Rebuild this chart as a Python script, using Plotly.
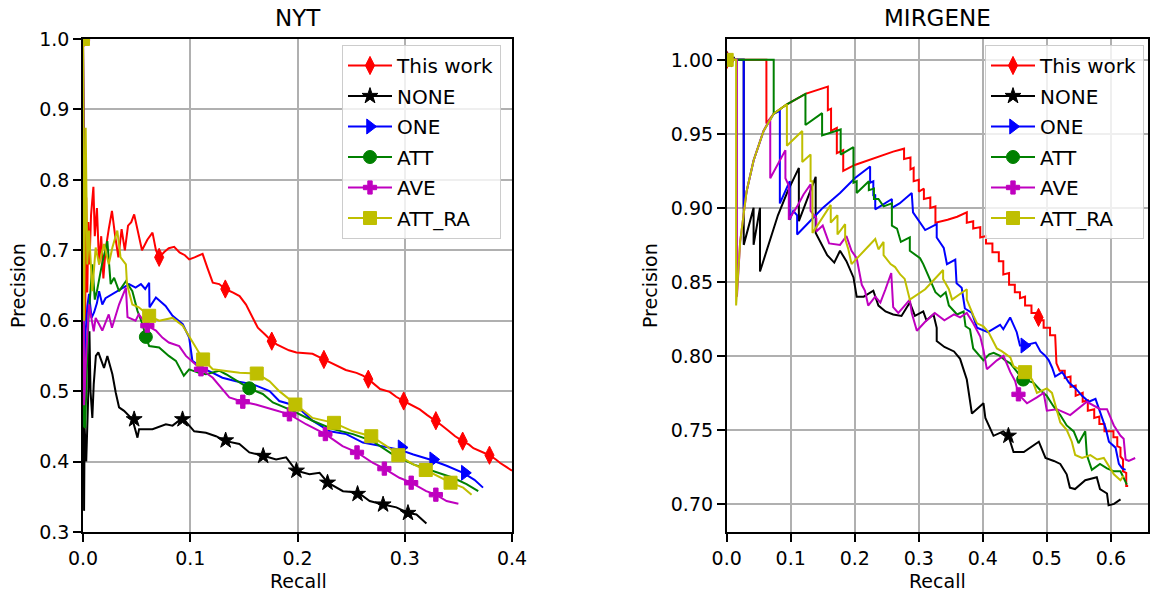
import plotly.graph_objects as go

# ---------------- NYT data (recall, precision) ----------------
NYT_THIS_WORK = [(0.0,1.0),(0.001,0.72),(0.002,0.60),(0.003,0.775),(0.004,0.64),(0.005,0.74),(0.006,0.68),(0.0075,0.75),(0.0097,0.79),(0.011,0.72),(0.013,0.76),(0.015,0.68),(0.017,0.72),(0.019,0.66),(0.021,0.70),(0.024,0.73),(0.027,0.756),(0.030,0.72),(0.033,0.69),(0.036,0.73),(0.039,0.70),(0.042,0.735),(0.045,0.74),(0.0477,0.751),(0.051,0.73),(0.055,0.70),(0.060,0.715),(0.0648,0.725),(0.068,0.70),(0.071,0.69),(0.076,0.698),(0.080,0.703),(0.085,0.705),(0.090,0.697),(0.095,0.693),(0.099,0.687),(0.104,0.690),(0.1115,0.695),(0.116,0.675),(0.121,0.654),(0.127,0.652),(0.1327,0.645),(0.140,0.640),(0.146,0.635),(0.152,0.623),(0.157,0.608),(0.163,0.590),(0.170,0.580),(0.176,0.571),(0.181,0.566),(0.186,0.562),(0.192,0.558),(0.199,0.555),(0.207,0.554),(0.214,0.553),(0.2246,0.545),(0.230,0.541),(0.236,0.536),(0.245,0.530),(0.255,0.526),(0.261,0.522),(0.266,0.517),(0.272,0.510),(0.277,0.503),(0.286,0.499),(0.292,0.492),(0.299,0.486),(0.306,0.480),(0.314,0.474),(0.321,0.466),(0.329,0.458),(0.334,0.452),(0.339,0.446),(0.347,0.436),(0.354,0.429),(0.360,0.424),(0.364,0.419),(0.372,0.414),(0.379,0.409),(0.385,0.403),(0.389,0.398),(0.395,0.392),(0.400,0.387)]
NYT_THIS_WORK_MARKS = [(0.0,1.0),(0.071,0.690),(0.1327,0.645),(0.176,0.571),(0.2246,0.545),(0.266,0.517),(0.299,0.486),(0.329,0.458),(0.354,0.429),(0.379,0.409)]

NYT_NONE = [(0.0,1.0),(0.0005,0.50),(0.001,0.33),(0.0015,0.45),(0.003,0.40),(0.005,0.50),(0.006,0.585),(0.007,0.50),(0.0087,0.462),(0.010,0.51),(0.012,0.55),(0.0143,0.555),(0.0196,0.533),(0.0227,0.550),(0.0274,0.524),(0.0305,0.498),(0.0336,0.477),(0.0383,0.472),(0.0461,0.460),(0.0508,0.434),(0.0523,0.446),(0.0648,0.446),(0.0773,0.453),(0.0835,0.451),(0.0928,0.462),(0.1037,0.443),(0.1146,0.441),(0.124,0.436),(0.1333,0.429),(0.1458,0.425),(0.1551,0.413),(0.1692,0.408),(0.180,0.403),(0.1894,0.406),(0.1988,0.387),(0.2112,0.382),(0.2206,0.384),(0.2283,0.370),(0.2424,0.358),(0.2564,0.356),(0.2673,0.344),(0.2798,0.339),(0.2922,0.335),(0.3031,0.327),(0.3109,0.325),(0.3202,0.312)]
NYT_NONE_MARKS = [(0.0,1.0),(0.0477,0.460),(0.0928,0.460),(0.133,0.430),(0.168,0.408),(0.199,0.387),(0.228,0.370),(0.256,0.354),(0.2798,0.339),(0.303,0.327)]

NYT_ONE = [(0.0,1.0),(0.001,0.45),(0.0025,0.585),(0.004,0.62),(0.0056,0.638),(0.008,0.604),(0.0104,0.612),(0.013,0.625),(0.015,0.642),(0.018,0.623),(0.021,0.632),(0.0274,0.638),(0.032,0.642),(0.0368,0.647),(0.043,0.652),(0.049,0.647),(0.054,0.652),(0.058,0.645),(0.0617,0.654),(0.062,0.619),(0.068,0.633),(0.077,0.621),(0.0835,0.607),(0.093,0.595),(0.099,0.576),(0.102,0.543),(0.111,0.533),(0.121,0.526),(0.130,0.519),(0.1427,0.514),(0.158,0.510),(0.174,0.500),(0.183,0.486),(0.199,0.479),(0.214,0.458),(0.230,0.443),(0.2455,0.439),(0.261,0.427),(0.2766,0.422),(0.295,0.417),(0.308,0.410),(0.3234,0.403),(0.339,0.394),(0.3545,0.384),(0.365,0.374),(0.373,0.363)]
NYT_ONE_MARKS = [(0.0,1.0),(0.297,0.420),(0.3265,0.403),(0.356,0.384)]

NYT_ATT = [(0.0,1.0),(0.001,0.45),(0.002,0.448),(0.005,0.60),(0.0087,0.680),(0.011,0.63),(0.013,0.642),(0.0177,0.680),(0.0227,0.713),(0.0258,0.652),(0.029,0.661),(0.0336,0.642),(0.040,0.656),(0.046,0.642),(0.0508,0.614),(0.0555,0.595),(0.0586,0.577),(0.0617,0.564),(0.071,0.562),(0.080,0.550),(0.0866,0.543),(0.094,0.522),(0.099,0.531),(0.108,0.526),(0.1146,0.524),(0.127,0.529),(0.1333,0.524),(0.146,0.512),(0.155,0.504),(0.1676,0.496),(0.177,0.484),(0.1956,0.472),(0.214,0.458),(0.233,0.446),(0.2517,0.439),(0.270,0.429),(0.289,0.410),(0.308,0.396),(0.3265,0.387),(0.345,0.377),(0.3576,0.368),(0.3685,0.358)]
NYT_ATT_MARKS = [(0.0,1.0),(0.0586,0.577),(0.155,0.504)]

NYT_AVE = [(0.0,1.0),(0.001,0.48),(0.0025,0.538),(0.0056,0.623),(0.010,0.585),(0.0118,0.604),(0.015,0.595),(0.018,0.586),(0.024,0.609),(0.027,0.590),(0.0336,0.623),(0.040,0.647),(0.0415,0.605),(0.049,0.600),(0.052,0.609),(0.060,0.593),(0.068,0.586),(0.074,0.576),(0.080,0.569),(0.0897,0.564),(0.096,0.550),(0.110,0.531),(0.121,0.519),(0.130,0.503),(0.1364,0.491),(0.149,0.485),(0.161,0.481),(0.177,0.474),(0.1925,0.467),(0.208,0.453),(0.226,0.439),(0.242,0.422),(0.2555,0.413),(0.2704,0.398),(0.281,0.390),(0.295,0.377),(0.306,0.370),(0.320,0.358),(0.329,0.353),(0.339,0.344),(0.350,0.340)]
NYT_AVE_MARKS = [(0.0,1.0),(0.060,0.593),(0.110,0.531),(0.149,0.485),(0.1925,0.467),(0.226,0.439),(0.2555,0.413),(0.281,0.390),(0.306,0.370),(0.329,0.353)]

NYT_ATT_RA = [(0.0,1.0),(0.001,0.60),(0.0025,0.874),(0.004,0.680),(0.0056,0.728),(0.0087,0.642),(0.0118,0.704),(0.015,0.680),(0.0196,0.709),(0.024,0.680),(0.0274,0.704),(0.032,0.728),(0.035,0.690),(0.040,0.680),(0.041,0.652),(0.046,0.623),(0.052,0.619),(0.0617,0.607),(0.071,0.600),(0.0835,0.604),(0.093,0.593),(0.102,0.571),(0.112,0.545),(0.121,0.531),(0.133,0.529),(0.146,0.526),(0.162,0.525),(0.174,0.514),(0.183,0.500),(0.198,0.481),(0.214,0.462),(0.234,0.455),(0.2517,0.443),(0.2688,0.436),(0.283,0.422),(0.294,0.409),(0.308,0.396),(0.3196,0.388),(0.333,0.377),(0.3427,0.370),(0.3545,0.363),(0.3623,0.353)]
NYT_ATT_RA_MARKS = [(0.0,1.0),(0.0617,0.607),(0.112,0.545),(0.162,0.525),(0.198,0.481),(0.234,0.455),(0.2688,0.436),(0.294,0.409),(0.3196,0.388),(0.3427,0.370)]

# ---------------- MIRGENE data ----------------
MIR_THIS_WORK = [(0.0,1.0),(0.062,1.0),(0.062,0.957),(0.0734,0.9636),(0.094,0.970),(0.123,0.977),(0.158,0.982),(0.158,0.966),(0.163,0.967),(0.163,0.952),(0.172,0.954),(0.172,0.937),(0.182,0.939),(0.182,0.925),(0.20,0.929),(0.22,0.932),(0.24,0.935),(0.26,0.938),(0.277,0.940),(0.277,0.933),(0.287,0.934),(0.287,0.926),(0.292,0.927),(0.292,0.918),(0.300,0.919),(0.300,0.911),(0.308,0.913),(0.308,0.906),(0.318,0.907),(0.318,0.900),(0.326,0.901),(0.326,0.890),(0.345,0.892),(0.360,0.894),(0.375,0.897),(0.375,0.890),(0.385,0.891),(0.385,0.886),(0.396,0.887),(0.396,0.880),(0.405,0.881),(0.405,0.876),(0.415,0.876),(0.415,0.870),(0.425,0.870),(0.425,0.864),(0.432,0.864),(0.432,0.855),(0.441,0.856),(0.441,0.848),(0.450,0.848),(0.450,0.843),(0.458,0.843),(0.458,0.839),(0.466,0.840),(0.466,0.834),(0.476,0.834),(0.476,0.829),(0.487,0.829),(0.487,0.824),(0.495,0.824),(0.495,0.819),(0.505,0.819),(0.505,0.814),(0.513,0.814),(0.515,0.795),(0.520,0.790),(0.528,0.790),(0.528,0.785),(0.537,0.786),(0.537,0.779),(0.545,0.780),(0.545,0.773),(0.556,0.775),(0.556,0.769),(0.564,0.770),(0.564,0.763),(0.574,0.764),(0.574,0.758),(0.582,0.759),(0.582,0.754),(0.590,0.754),(0.590,0.749),(0.604,0.749),(0.604,0.745),(0.610,0.745),(0.610,0.739),(0.615,0.738),(0.615,0.732),(0.619,0.730),(0.619,0.722),(0.624,0.721),(0.624,0.712),(0.627,0.712)]
MIR_THIS_WORK_MARKS = [(0.0,1.0),(0.487,0.826)]

MIR_NONE = [(0.0,1.0),(0.0266,1.0),(0.0266,0.875),(0.042,0.900),(0.042,0.875),(0.052,0.900),(0.052,0.857),(0.065,0.875),(0.080,0.895),(0.095,0.911),(0.1127,0.927),(0.1127,0.891),(0.125,0.905),(0.139,0.921),(0.139,0.883),(0.148,0.875),(0.157,0.868),(0.168,0.863),(0.177,0.871),(0.187,0.864),(0.198,0.853),(0.203,0.840),(0.214,0.840),(0.229,0.844),(0.237,0.834),(0.248,0.830),(0.260,0.828),(0.273,0.827),(0.286,0.836),(0.294,0.827),(0.307,0.830),(0.312,0.824),(0.323,0.828),(0.328,0.819),(0.328,0.810),(0.340,0.806),(0.355,0.803),(0.3645,0.798),(0.375,0.784),(0.383,0.761),(0.401,0.768),(0.404,0.758),(0.4167,0.746),(0.432,0.749),(0.440,0.746),(0.448,0.735),(0.464,0.735),(0.4875,0.742),(0.4979,0.731),(0.511,0.729),(0.521,0.727),(0.531,0.720),(0.536,0.711),(0.544,0.710),(0.560,0.716),(0.578,0.718),(0.583,0.710),(0.594,0.707),(0.5964,0.699),(0.605,0.700),(0.6151,0.703)]
MIR_NONE_MARKS = [(0.0,1.0),(0.440,0.746)]

MIR_ONE = [(0.0,1.0),(0.0266,1.0),(0.0266,0.900),(0.031,0.911),(0.042,0.932),(0.0576,0.952),(0.0734,0.9636),(0.083,0.9655),(0.083,0.903),(0.0985,0.918),(0.0985,0.892),(0.104,0.898),(0.110,0.895),(0.110,0.882),(0.130,0.891),(0.150,0.900),(0.177,0.910),(0.200,0.920),(0.224,0.928),(0.224,0.917),(0.229,0.918),(0.229,0.908),(0.232,0.909),(0.232,0.899),(0.258,0.906),(0.258,0.900),(0.270,0.903),(0.289,0.910),(0.291,0.897),(0.302,0.890),(0.310,0.885),(0.328,0.889),(0.328,0.880),(0.339,0.873),(0.344,0.862),(0.357,0.865),(0.359,0.849),(0.367,0.846),(0.372,0.832),(0.383,0.829),(0.391,0.819),(0.408,0.816),(0.427,0.821),(0.432,0.818),(0.4427,0.826),(0.453,0.816),(0.458,0.807),(0.4648,0.807),(0.4825,0.809),(0.490,0.803),(0.4979,0.800),(0.503,0.797),(0.5083,0.792),(0.513,0.786),(0.524,0.789),(0.5344,0.782),(0.545,0.778),(0.555,0.773),(0.5656,0.769),(0.576,0.771),(0.5813,0.764),(0.5865,0.757),(0.592,0.751),(0.597,0.742),(0.6073,0.738),(0.6125,0.727),(0.6177,0.724),(0.623,0.723)]
MIR_ONE_MARKS = [(0.0,1.0),(0.4648,0.807)]

MIR_ATT = [(0.0,1.0),(0.0734,1.0),(0.0734,0.9636),(0.094,0.970),(0.123,0.977),(0.123,0.956),(0.149,0.964),(0.149,0.949),(0.178,0.953),(0.178,0.936),(0.198,0.941),(0.198,0.917),(0.203,0.918),(0.203,0.910),(0.222,0.918),(0.222,0.912),(0.230,0.913),(0.230,0.906),(0.237,0.906),(0.245,0.901),(0.258,0.903),(0.258,0.888),(0.266,0.886),(0.272,0.877),(0.286,0.880),(0.286,0.871),(0.302,0.866),(0.307,0.862),(0.315,0.854),(0.326,0.843),(0.334,0.840),(0.342,0.843),(0.347,0.834),(0.3598,0.828),(0.370,0.830),(0.373,0.820),(0.380,0.818),(0.385,0.805),(0.401,0.797),(0.410,0.801),(0.417,0.802),(0.427,0.800),(0.435,0.797),(0.443,0.795),(0.452,0.790),(0.463,0.784),(0.479,0.782),(0.4895,0.777),(0.500,0.773),(0.5103,0.766),(0.521,0.760),(0.531,0.753),(0.542,0.749),(0.5495,0.741),(0.560,0.749),(0.5625,0.733),(0.5703,0.723),(0.583,0.727),(0.594,0.724),(0.6047,0.722),(0.615,0.722),(0.6224,0.716),(0.625,0.713)]
MIR_ATT_MARKS = [(0.0,1.0),(0.463,0.784)]

MIR_AVE = [(0.0,1.0),(0.016,1.0),(0.016,0.840),(0.021,0.877),(0.031,0.911),(0.042,0.932),(0.0576,0.952),(0.068,0.9605),(0.068,0.920),(0.080,0.930),(0.0917,0.939),(0.0917,0.920),(0.097,0.915),(0.097,0.892),(0.110,0.901),(0.120,0.909),(0.131,0.916),(0.131,0.898),(0.140,0.893),(0.140,0.884),(0.150,0.888),(0.160,0.876),(0.177,0.875),(0.187,0.881),(0.195,0.871),(0.203,0.866),(0.211,0.848),(0.216,0.844),(0.221,0.834),(0.232,0.840),(0.240,0.836),(0.248,0.845),(0.257,0.856),(0.260,0.833),(0.268,0.829),(0.276,0.833),(0.286,0.838),(0.289,0.829),(0.297,0.817),(0.310,0.823),(0.325,0.829),(0.340,0.824),(0.355,0.828),(0.3645,0.826),(0.375,0.829),(0.385,0.822),(0.396,0.813),(0.401,0.804),(0.4063,0.791),(0.422,0.797),(0.4323,0.800),(0.443,0.789),(0.4505,0.783),(0.4557,0.774),(0.469,0.768),(0.4845,0.772),(0.495,0.775),(0.500,0.763),(0.5156,0.764),(0.526,0.762),(0.5365,0.760),(0.5625,0.769),(0.5833,0.764),(0.594,0.764),(0.6047,0.753),(0.6151,0.746),(0.620,0.744),(0.623,0.730),(0.628,0.729),(0.638,0.731)]
MIR_AVE_MARKS = [(0.0,1.0),(0.4557,0.774)]

MIR_ATT_RA = [(0.0,1.0),(0.0147,1.0),(0.0147,0.834),(0.021,0.877),(0.031,0.911),(0.042,0.932),(0.0576,0.952),(0.0734,0.9636),(0.094,0.970),(0.094,0.942),(0.118,0.952),(0.118,0.931),(0.131,0.936),(0.131,0.918),(0.134,0.918),(0.134,0.883),(0.1625,0.902),(0.1625,0.890),(0.173,0.895),(0.173,0.882),(0.185,0.889),(0.185,0.879),(0.190,0.872),(0.195,0.862),(0.232,0.879),(0.237,0.872),(0.245,0.877),(0.245,0.868),(0.256,0.862),(0.263,0.860),(0.271,0.855),(0.278,0.852),(0.286,0.838),(0.310,0.845),(0.338,0.858),(0.338,0.852),(0.347,0.845),(0.352,0.838),(0.375,0.845),(0.375,0.838),(0.3855,0.827),(0.391,0.822),(0.401,0.820),(0.409,0.816),(0.422,0.805),(0.430,0.803),(0.443,0.799),(0.448,0.793),(0.466,0.789),(0.477,0.784),(0.4845,0.775),(0.500,0.778),(0.508,0.775),(0.5156,0.764),(0.521,0.755),(0.531,0.750),(0.539,0.742),(0.5443,0.733),(0.555,0.731),(0.568,0.733),(0.5786,0.730),(0.589,0.731),(0.6047,0.720),(0.615,0.716),(0.620,0.719)]
MIR_ATT_RA_MARKS = [(0.0,1.0),(0.466,0.789)]

SERIES = ["This work", "NONE", "ONE", "ATT", "AVE", "ATT_RA"]
COLORS = ["#ff0000", "#000000", "#0000ff", "#008000", "#bf00bf", "#bfbf00"]
SYMBOLS = ["diamond-tall", "star", "triangle-right", "circle", "cross", "square"]
SIZES = [13, 12, 13, 13, 11, 13]

NYT_LINES = [NYT_THIS_WORK, NYT_NONE, NYT_ONE, NYT_ATT, NYT_AVE, NYT_ATT_RA]
NYT_MARKS = [NYT_THIS_WORK_MARKS, NYT_NONE_MARKS, NYT_ONE_MARKS, NYT_ATT_MARKS, NYT_AVE_MARKS, NYT_ATT_RA_MARKS]
MIR_LINES = [MIR_THIS_WORK, MIR_NONE, MIR_ONE, MIR_ATT, MIR_AVE, MIR_ATT_RA]
MIR_MARKS = [MIR_THIS_WORK_MARKS, MIR_NONE_MARKS, MIR_ONE_MARKS, MIR_ATT_MARKS, MIR_AVE_MARKS, MIR_ATT_RA_MARKS]

W, H = 1155, 596
ML, MR, MT, MB = 83, 7, 39, 64
PW, PH = W - ML - MR, H - MT - MB
FONT = "DejaVu Sans"
LW = 2


def px(xp):
    return (xp - ML) / PW


def py(yp):
    return (H - MB - yp) / PH


fig = go.Figure()


def xs(p):
    return [a for a, b in p]


def ys(p):
    return [b for a, b in p]


for lines, marks, xa, ya, leg in [
        (NYT_LINES, NYT_MARKS, "x", "y", "legend"),
        (MIR_LINES, MIR_MARKS, "x2", "y2", "legend2")]:
    for i, name in enumerate(SERIES):
        fig.add_trace(go.Scatter(x=xs(lines[i]), y=ys(lines[i]), mode="lines",
                                 line=dict(color=COLORS[i], width=LW),
                                 xaxis=xa, yaxis=ya, showlegend=False, hoverinfo="skip"))
        fig.add_trace(go.Scatter(x=xs(marks[i]), y=ys(marks[i]), mode="markers",
                                 marker=dict(color=COLORS[i], symbol=SYMBOLS[i], size=SIZES[i],
                                             line=dict(color=COLORS[i], width=1)),
                                 xaxis=xa, yaxis=ya, showlegend=False, hoverinfo="skip"))
    for i, name in enumerate(SERIES):
        fig.add_trace(go.Scatter(x=[None], y=[None], mode="lines+markers", name=name,
                                 line=dict(color=COLORS[i], width=LW),
                                 marker=dict(color=COLORS[i], symbol=SYMBOLS[i], size=SIZES[i],
                                             line=dict(color=COLORS[i], width=1)),
                                 xaxis=xa, yaxis=ya, legend=leg, legendgroup=f"{leg}{i}",
                                 showlegend=True))

axis_common = dict(showline=True, mirror=True, linecolor="black", linewidth=1.6,
                   showgrid=True, gridcolor="#b0b0b0", gridwidth=1.6,
                   ticks="outside", ticklen=8, tickwidth=1.6, tickcolor="black",
                   zeroline=False, automargin=False,
                   tickfont=dict(family=FONT, size=19, color="black"))

legend_common = dict(xanchor="left", yanchor="top", itemwidth=44,
                     bgcolor="rgba(255,255,255,0.8)", bordercolor="#cccccc", borderwidth=1,
                     font=dict(family=FONT, size=20, color="black"), tracegroupgap=1.5)

fig.update_layout(
    template="none",
    width=W, height=H,
    margin=dict(l=ML, r=MR, t=MT, b=MB, pad=0),
    paper_bgcolor="white", plot_bgcolor="white",
    font=dict(family=FONT, size=19, color="black"),
    xaxis=dict(domain=[0, px(512)], range=[0, 0.4], tick0=0, dtick=0.1, tickformat=".1f", anchor="y", **axis_common),
    yaxis=dict(domain=[0, 1], range=[0.3, 1.0], tick0=0.3, dtick=0.1, tickformat=".1f", anchor="x", **axis_common),
    xaxis2=dict(domain=[px(726.7), 1], range=[0, 0.658], tick0=0, dtick=0.1, tickformat=".1f", anchor="y2", **axis_common),
    yaxis2=dict(domain=[0, 1], range=[0.681, 1.0141], tick0=0.7, dtick=0.05, tickformat=".2f", anchor="x2", **axis_common),
    legend=dict(x=px(342), y=py(45), **legend_common),
    legend2=dict(x=px(985), y=py(45), **legend_common),
    showlegend=True,
)

annots = [
    dict(text="NYT", x=px(298), y=py(18), size=23, angle=0),
    dict(text="MIRGENE", x=px(937), y=py(18), size=23, angle=0),
    dict(text="Recall", x=px(298), y=py(581), size=19, angle=0),
    dict(text="Recall", x=px(937), y=py(581), size=19, angle=0),
    dict(text="Precision", x=px(18), y=py(286), size=19, angle=-90),
    dict(text="Precision", x=px(650), y=py(286), size=19, angle=-90),
]
for a in annots:
    fig.add_annotation(text=a["text"], x=a["x"], y=a["y"], xref="paper", yref="paper",
                       showarrow=False, textangle=a["angle"], xanchor="center", yanchor="middle",
                       font=dict(family=FONT, size=a["size"], color="black"))

fig.write_html("out.html",
               config={"displayModeBar": False},
               post_script="document.body.style.margin='0px';document.body.style.padding='0px';"
                           "document.body.style.overflow='hidden';")
